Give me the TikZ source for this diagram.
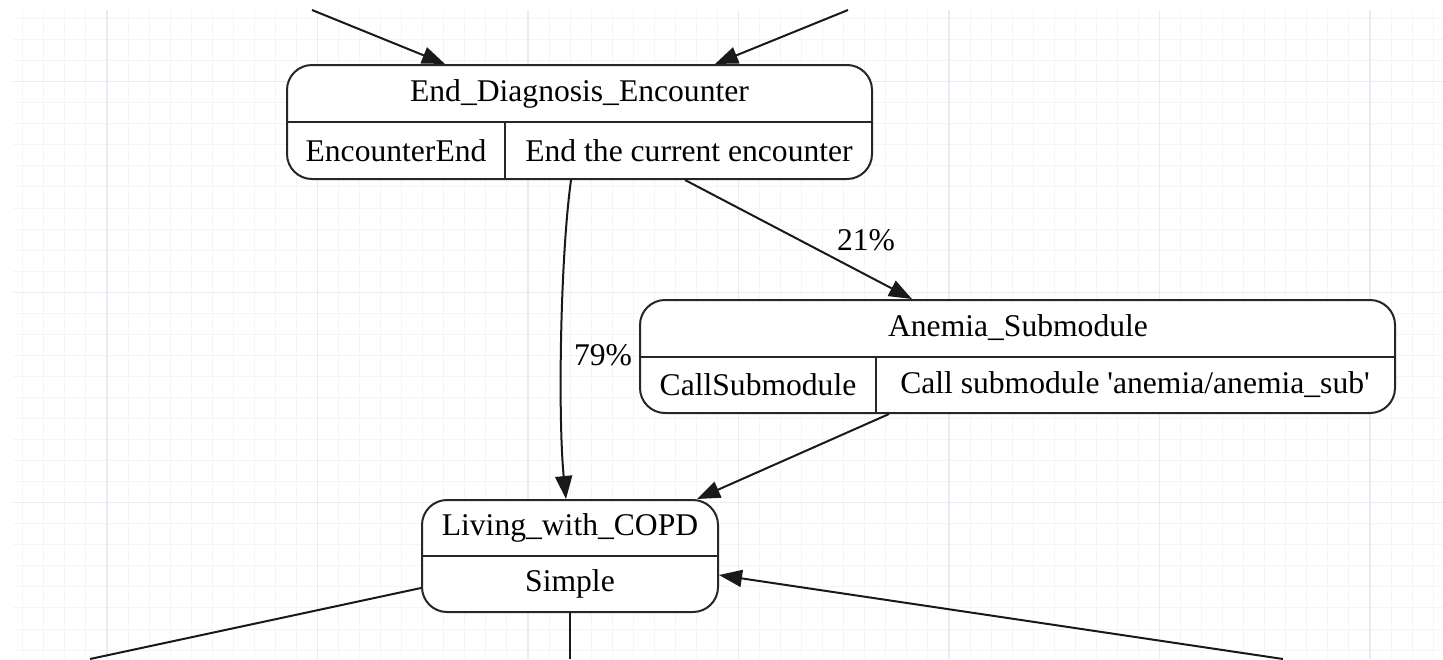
\documentclass[tikz,border=0pt]{standalone}
\usepackage{fontspec}
\setmainfont{Liberation Serif}
\usetikzlibrary{arrows.meta}
\definecolor{gridminor}{HTML}{F2F5F9}
\definecolor{gridmajor}{HTML}{E6ECF3}
\tikzset{
  state/.style={draw=black!85, line width=1pt, rounded corners=12.5pt, fill=white, inner sep=0pt},
  divider/.style={draw=black!85, line width=1pt},
  conn/.style={draw=black!90, line width=1pt, -{Triangle[length=11.5pt,width=8.5pt]}},
  plain/.style={draw=black!90, line width=1pt},
  txt/.style={font=\fontsize{15.8}{19}\selectfont, inner sep=0pt, anchor=center},
}
\begin{document}
\begin{tikzpicture}[x=0.5pt,y=-0.5pt]
\useasboundingbox (0,0) rectangle (1443,659);
\fill[white] (0,0) rectangle (1443,659);
% grid
\begin{scope}
\clip (13,10) rectangle (1443,659);
\foreach \i in {0,...,68} {
  \draw[gridminor, line width=0.5pt] ({22.8+21.05*\i},10) -- ({22.8+21.05*\i},659);
}
\foreach \i in {0,...,31} {
  \draw[gridminor, line width=0.5pt] (13,{18.55+21.05*\i}) -- (1443,{18.55+21.05*\i});
}
\foreach \i in {0,...,6} {
  \draw[gridmajor, line width=0.7pt] ({107+210.5*\i},10) -- ({107+210.5*\i},659);
}
\foreach \i in {0,...,2} {
  \draw[gridmajor, line width=0.7pt] (13,{81.7+210.5*\i}) -- (1443,{81.7+210.5*\i});
}
\end{scope}

% nodes
\node[state, minimum width=292.5pt, minimum height=57pt] (ede) at (579.5,122) {};
\draw[divider] (ede.west) -- (ede.east);
\draw[divider] (505,122) -- (505,179);
\node[txt] (edeT) at (579.5,93.5) {End\_Diagnosis\_Encounter};
\node[txt] (edeA) at (396,150.5) {EncounterEnd};
\node[txt] (edeB) at (689,150.5) {End the current encounter};

\node[state, minimum width=377.5pt, minimum height=56.5pt] (ane) at (1017.5,356.5) {};
\draw[divider] (ane.west) -- (ane.east);
\draw[divider] (876,356.5) -- (876,413);
\node[txt] (aneT) at (1018,328) {Anemia\_Submodule};
\node[txt] (aneA) at (758,384.5) {CallSubmodule};
\node[txt] (aneB) at (1135,384.5) {Call submodule \textquotesingle anemia/anemia\_sub\textquotesingle};

\node[state, minimum width=148pt, minimum height=56pt] (liv) at (570,556) {};
\draw[divider] (liv.west) -- (liv.east);
\node[txt] (livT) at (570,528) {Living\_with\_COPD};
\node[txt] (livB) at (570,584) {Simple};

% free ends
\coordinate (inTL) at (312,10);
\coordinate (inTR) at (848,10);
\coordinate (outB) at (570,659);
\coordinate (outBL) at (90,659);
\coordinate (inBR) at (1283,659);

% connectors
\draw[conn] (inTL) -- ([xshift=-67.25pt]ede.north);
\draw[conn] (inTR) -- ([xshift=67.75pt]ede.north);
\draw[conn] ([xshift=-4.25pt]ede.south) .. controls (560,260) and (558,420) .. ([xshift=-2pt]liv.north);
\node[txt] (p79) at (603,355) {79\%};
\draw[conn] ([xshift=52.75pt]ede.south) -- ([xshift=-52.75pt]ane.north);
\node[txt] (p21) at (866,240) {21\%};
\draw[conn] ([xshift=-64.25pt]ane.south) -- ([xshift=63.5pt]liv.north);
\draw[plain] (liv.south) -- (outB);
\draw[plain] ([yshift=-16pt]liv.west) -- (outBL);
\draw[conn] (inBR) -- ([yshift=-9.5pt]liv.east);
\end{tikzpicture}
\end{document}
